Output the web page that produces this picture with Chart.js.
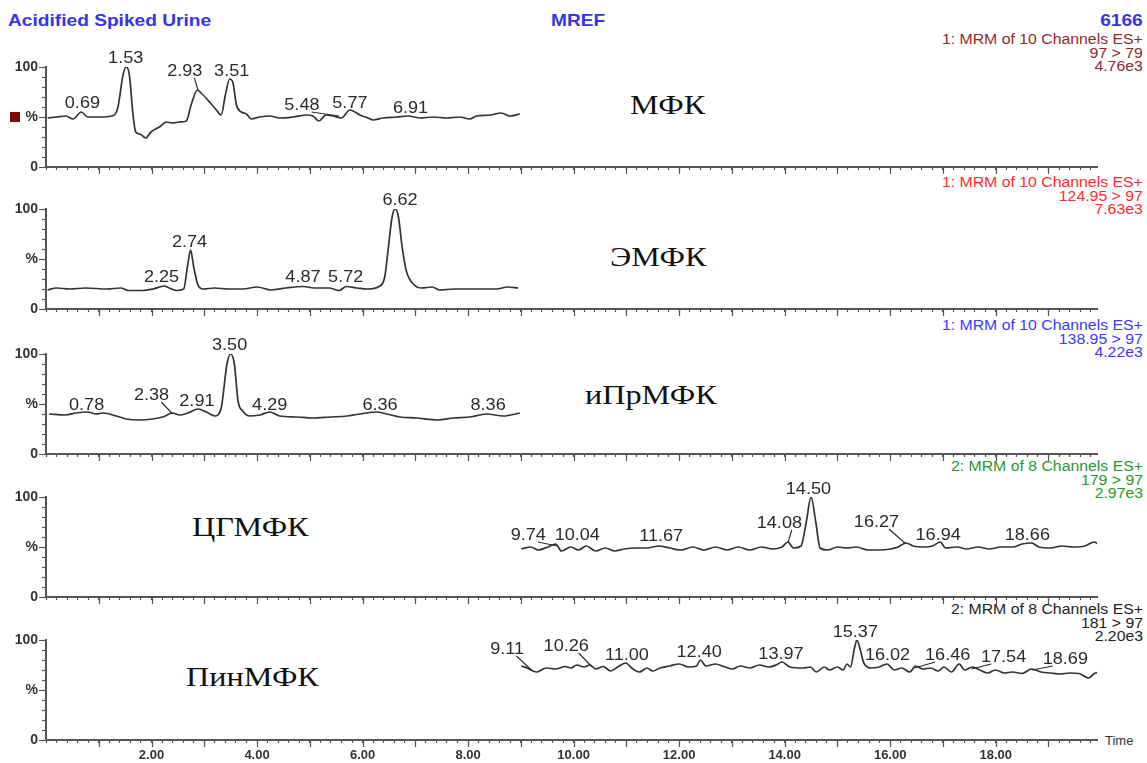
<!DOCTYPE html>
<html>
<head>
<meta charset="utf-8">
<script src="https://cdn.jsdelivr.net/npm/chart.js@4.4.1/dist/chart.umd.min.js"></script>
<style>
  html, body { margin: 0; padding: 0; background: #fff; overflow: hidden; }
  #wrap { position: relative; width: 1147px; height: 763px; background: #fff; }
  canvas { position: absolute; left: 0; }
  .t { position: absolute; white-space: nowrap; font-family: "Liberation Sans", Arial, sans-serif; }
  .hdr { font-weight: bold; font-size: 16.5px; color: #3434ee; top: 11px; }
  .info { right: 4px; text-align: right; font-size: 14px; line-height: 13.5px; transform: scaleX(1.13); transform-origin: right center; }
  .ru { font-family: "Liberation Serif", "Times New Roman", serif; font-size: 28px; line-height: 28px; color: #111; transform: scaleX(1.15); transform-origin: left center; }
</style>
</head>
<body>
<div id="wrap">
  <div class="t hdr" style="left:8px; transform:scaleX(1.16); transform-origin:left center;">Acidified Spiked Urine</div>
  <div class="t hdr" style="left:551px; transform:scaleX(1.16); transform-origin:left center;">MREF</div>
  <div class="t hdr" style="right:4px; transform:scaleX(1.16); transform-origin:right center;">6166</div>

  <div class="t info" style="top:33px; color:#8e2a2a;">1: MRM of 10 Channels ES+<br>97 &gt; 79<br>4.76e3</div>
  <div class="t info" style="top:176px; color:#ff2b2b;">1: MRM of 10 Channels ES+<br>124.95 &gt; 97<br>7.63e3</div>
  <div class="t info" style="top:319px; color:#3a3aff;">1: MRM of 10 Channels ES+<br>138.95 &gt; 97<br>4.22e3</div>
  <div class="t info" style="top:460px; color:#2b962b;">2: MRM of 8 Channels ES+<br>179 &gt; 97<br>2.97e3</div>
  <div class="t info" style="top:603px; color:#222;">2: MRM of 8 Channels ES+<br>181 &gt; 97<br>2.20e3</div>

  <div style="position:absolute; left:10px; top:112px; width:10px; height:10px; background:#7d0c0c;"></div>

  <div class="t ru" style="left:630px; top:91px;">МФК</div>
  <div class="t ru" style="left:610px; top:243px;">ЭМФК</div>
  <div class="t ru" style="left:585px; top:381px;">иПрМФК</div>
  <div class="t ru" style="left:192px; top:513px;">ЦГМФК</div>
  <div class="t ru" style="left:186px; top:663px;">ПинМФК</div>

  <div class="t" style="left:1105px; top:733px; font-size:13px; color:#333;">Time</div>

  <canvas id="c1" width="1147" height="169"></canvas>
  <canvas id="c2" width="1147" height="169"></canvas>
  <canvas id="c3" width="1147" height="169"></canvas>
  <canvas id="c4" width="1147" height="169"></canvas>
  <canvas id="c5" width="1147" height="169"></canvas>
</div>

<script>
// retention time axis (min)
const timeMax = 19.92;

// traces: [time, % of base peak]
const mfkTrace = [
  [0.03,49],[0.20,50],[0.38,51],[0.51,48],[0.67,55],[0.79,50],[1.01,50],[1.24,51],[1.36,59],
  [1.46,92],[1.52,100],[1.58,92],[1.65,52],[1.70,35],[1.78,33],[1.89,29],[1.99,35],[2.15,40],
  [2.28,45],[2.40,44],[2.53,45],[2.66,46],[2.75,62],[2.87,77],[2.94,74],[3.10,65],[3.23,57],
  [3.32,52],[3.40,72],[3.48,88],[3.54,85],[3.61,62],[3.70,55],[3.80,53],[3.89,48],[4.05,50],
  [4.24,51],[4.43,49],[4.68,50],[4.94,52],[5.06,51],[5.17,46],[5.31,52],[5.44,51],[5.60,49],
  [5.76,57],[5.95,52],[6.10,49],[6.20,47],[6.39,49],[6.64,50],[6.86,51],[7.09,49],[7.34,50],
  [7.59,49],[7.84,50],[8.03,48],[8.16,51],[8.42,52],[8.63,54],[8.79,51],[8.98,53]
];
const emfkTrace = [
  [0.03,19],[0.20,21],[0.45,20],[0.75,21],[1.15,20],[1.42,21],[1.56,18.5],[1.83,18.5],[2.03,20],
  [2.24,23],[2.34,21],[2.47,18.5],[2.61,20],[2.68,42],[2.74,59],[2.80,42],[2.88,24],[2.98,20],
  [3.19,21],[3.46,20],[3.73,20],[4.00,22],[4.27,19],[4.54,21],[4.88,22.5],[5.08,21],[5.36,21],
  [5.56,18.5],[5.69,22.5],[5.90,21],[6.10,20],[6.31,22.5],[6.42,32],[6.49,62],[6.56,92],
  [6.62,100],[6.68,92],[6.75,62],[6.83,38],[6.98,24],[7.12,21],[7.32,22],[7.46,19],[7.73,20],
  [8.14,20],[8.54,20],[8.75,22],[8.95,21]
];
const iprTrace = [
  [0.06,40],[0.37,39],[0.57,41],[0.79,42],[0.95,40],[1.08,41],[1.33,38],[1.52,35],[1.77,34],
  [2.02,35],[2.21,37],[2.40,41],[2.53,39],[2.69,41],[2.88,45],[3.04,42],[3.20,38],[3.32,46],
  [3.43,90],[3.50,100],[3.57,90],[3.64,53],[3.73,43],[3.86,38],[4.05,39],[4.24,42],[4.43,38],
  [4.75,37],[5.06,36],[5.38,37],[5.70,38],[5.95,40],[6.26,42],[6.46,40],[6.71,37],[7.02,36],
  [7.43,34],[7.72,36],[8.03,37],[8.35,40],[8.67,38],[8.98,41]
];
const cgmTrace = [
  [9.01,48],[9.19,50],[9.33,47],[9.51,50],[9.66,53],[9.77,46],[9.95,50],[10.09,47],[10.24,51],
  [10.42,46],[10.60,49],[10.78,46],[10.96,48],[11.17,49],[11.39,49],[11.61,51],[11.82,49],
  [12.04,47],[12.26,50],[12.47,47],[12.69,50],[12.91,47],[13.12,50],[13.34,47],[13.56,50],
  [13.77,48],[13.95,50],[14.06,55],[14.17,49],[14.31,51],[14.41,75],[14.50,100],[14.59,75],
  [14.67,49],[14.82,47],[15.00,50],[15.18,49],[15.36,50],[15.58,47],[15.79,47],[16.01,48],
  [16.15,50],[16.30,54],[16.44,51],[16.66,50],[16.80,51],[16.95,55],[17.05,49],[17.27,50],
  [17.45,48],[17.67,50],[17.88,48],[18.10,50],[18.32,50],[18.50,53],[18.68,54],[18.82,50],
  [19.04,49],[19.25,51],[19.47,50],[19.69,51],[19.87,55],[19.98,51]
];
const pinTrace = [
  [9.01,74],[9.12,72],[9.30,68],[9.48,72],[9.66,71],[9.84,73.5],[9.95,72],[10.06,75],[10.20,73],
  [10.31,75],[10.42,71],[10.56,73.5],[10.70,69],[10.85,73.5],[10.99,77],[11.10,72],[11.25,68],
  [11.39,72],[11.50,69],[11.64,72],[11.82,74],[12.00,76],[12.18,73],[12.33,74],[12.40,80],
  [12.51,74],[12.69,76],[12.87,73],[13.01,71],[13.16,74],[13.34,72],[13.52,75],[13.70,73],
  [13.84,75],[13.95,78],[14.10,73],[14.35,72],[14.49,73],[14.60,68],[14.75,73],[14.85,70],
  [15.00,73],[15.11,70],[15.18,76],[15.25,73],[15.32,91],[15.37,100],[15.43,91],[15.50,77],
  [15.65,72],[15.79,73],[15.94,76],[16.08,70],[16.22,72],[16.37,68],[16.48,74],[16.62,71],
  [16.77,72],[16.91,69],[17.02,73],[17.16,68],[17.31,76],[17.41,70],[17.56,73],[17.70,70],
  [17.85,67],[17.99,70],[18.17,67],[18.32,68],[18.50,66.5],[18.68,71],[18.86,68],[19.04,67],
  [19.22,66],[19.40,67],[19.58,66.5],[19.76,62],[19.87,66.5],[19.98,68]
];

// peak annotations: [text, peak time, peak %, label time, label %]
const mfkPeaks = [
  ["0.69",0.69,55,0.69,59], ["1.53",1.53,100,1.51,104], ["2.93",2.88,77,2.63,91],
  ["3.51",3.51,88,3.52,91], ["5.48",5.55,51,4.85,57], ["5.77",5.77,57,5.76,59],
  ["6.91",6.91,51,6.91,54]
];
const emfkPeaks = [
  ["2.25",2.25,23,2.19,27], ["2.74",2.74,59,2.72,62], ["4.87",4.87,22,4.87,27],
  ["5.72",5.72,22,5.68,27], ["6.62",6.62,100,6.71,104]
];
const iprPeaks = [
  ["0.78",0.78,42,0.77,44], ["2.38",2.40,40,2.00,54], ["2.91",2.91,45,2.86,48],
  ["3.50",3.50,100,3.48,104], ["4.29",4.29,42,4.24,44], ["6.36",6.36,42,6.33,44],
  ["8.36",8.36,40,8.38,44]
];
const cgmPeaks = [
  ["9.74",9.69,51,9.14,57], ["10.04",10.04,51,10.07,57], ["11.67",11.67,51,11.66,56],
  ["14.08",14.06,54,13.90,69], ["14.50",14.50,100,14.45,103], ["16.27",16.30,53,15.74,70],
  ["16.94",16.94,54,16.91,57], ["18.66",18.66,54,18.60,57]
];
const pinPeaks = [
  ["9.11",9.20,70,8.74,86], ["10.26",10.35,73,9.86,89], ["11.00",10.99,77,11.01,80],
  ["12.40",12.40,80,12.38,83], ["13.97",13.95,78,13.93,81], ["15.37",15.37,100,15.34,103],
  ["16.02",15.94,76,15.95,80], ["16.46",16.46,72,17.09,80], ["17.54",17.54,71,18.15,78],
  ["18.69",18.69,70,19.32,76]
];

const AXIS = "#555";
const INK = "#2b2b2b";

// peak labels, leader lines and the longer major ticks
const chromPlugin = {
  id: "chrom",
  afterDraw(chart, args, opts) {
    const ctx = chart.ctx;
    const xs = chart.scales.x, ys = chart.scales.y;
    ctx.save();
    ctx.strokeStyle = AXIS;
    ctx.lineWidth = 1.2;
    ctx.beginPath();
    for (let m = 1; m < timeMax; m++) {
      const px = Math.round(xs.getPixelForValue(m)) + 0.5;
      ctx.moveTo(px, ys.bottom);
      ctx.lineTo(px, ys.bottom + 7);
    }
    for (const v of [0, 50, 100]) {
      const py = Math.round(ys.getPixelForValue(v)) + 0.5;
      ctx.moveTo(xs.left - 7, py);
      ctx.lineTo(xs.left, py);
    }
    ctx.stroke();

    ctx.font = '16px "Liberation Sans", Arial, sans-serif';
    ctx.fillStyle = INK;
    ctx.textAlign = "center";
    ctx.textBaseline = "alphabetic";
    for (const [text, pt, pv, lt, lv] of opts.peaks) {
      const lx = xs.getPixelForValue(lt), ly = ys.getPixelForValue(lv);
      ctx.save();
      ctx.translate(lx, ly);
      ctx.scale(1.13, 1);
      ctx.fillText(text, 0, 0);
      ctx.restore();
      if (Math.abs(lt - pt) > 0.1) {
        const half = ctx.measureText(text).width * 1.13 / 2;
        const dir = pt > lt ? 1 : -1;
        ctx.strokeStyle = INK;
        ctx.lineWidth = 1.1;
        ctx.beginPath();
        ctx.moveTo(lx + dir * half * 0.55, ly + 2);
        ctx.lineTo(xs.getPixelForValue(pt), ys.getPixelForValue(pv));
        ctx.stroke();
      }
    }
    ctx.restore();
  }
};

function buildPanel(id, top, trace, peaks, showTime) {
  const canvas = document.getElementById(id);
  canvas.style.top = (top - 45) + "px";
  return new Chart(canvas, {
    type: "line",
    data: {
      datasets: [{
        data: trace.map(p => ({ x: p[0], y: p[1] })),
        borderColor: "#333",
        borderWidth: 1.7,
        pointRadius: 0,
        cubicInterpolationMode: "monotone",
        fill: false
      }]
    },
    options: {
      responsive: false,
      animation: false,
      events: [],
      layout: { padding: { top: 45, right: 50, left: 0, bottom: 0 } },
      plugins: {
        legend: { display: false },
        tooltip: { enabled: false },
        chrom: { peaks }
      },
      scales: {
        x: {
          type: "linear",
          min: 0,
          max: timeMax,
          afterFit(s) { s.height = 24; },
          border: { color: AXIS, width: 2 },
          grid: { drawOnChartArea: false, tickLength: 3, tickColor: AXIS, tickWidth: 1.2 },
          ticks: {
            stepSize: 0.2,
            autoSkip: false,
            maxRotation: 0,
            includeBounds: false,
            padding: 5,
            color: "#333",
            font: { family: "Liberation Sans", size: 13, weight: "bold" },
            callback(v) {
              if (!showTime) return "";
              const r = Math.round(v);
              return (Math.abs(v - r) < 1e-6 && r > 0 && r % 2 === 0) ? r.toFixed(2) : "";
            }
          }
        },
        y: {
          min: 0,
          max: 100,
          afterFit(s) { s.width = 46; },
          border: { color: AXIS, width: 2 },
          grid: { drawOnChartArea: false, tickLength: 4, tickColor: AXIS, tickWidth: 1.2 },
          ticks: {
            stepSize: 10,
            autoSkip: false,
            padding: 4,
            color: "#333",
            font: { family: "Liberation Sans", size: 14, weight: "bold" },
            callback(v) { return v === 100 ? "100" : v === 50 ? "%" : v === 0 ? "0" : ""; }
          }
        }
      }
    },
    plugins: [chromPlugin]
  });
}

buildPanel("c1", 67, mfkTrace, mfkPeaks, false);
buildPanel("c2", 209, emfkTrace, emfkPeaks, false);
buildPanel("c3", 354, iprTrace, iprPeaks, false);
buildPanel("c4", 497, cgmTrace, cgmPeaks, false);
buildPanel("c5", 640, pinTrace, pinPeaks, true);
</script>
</body>
</html>
